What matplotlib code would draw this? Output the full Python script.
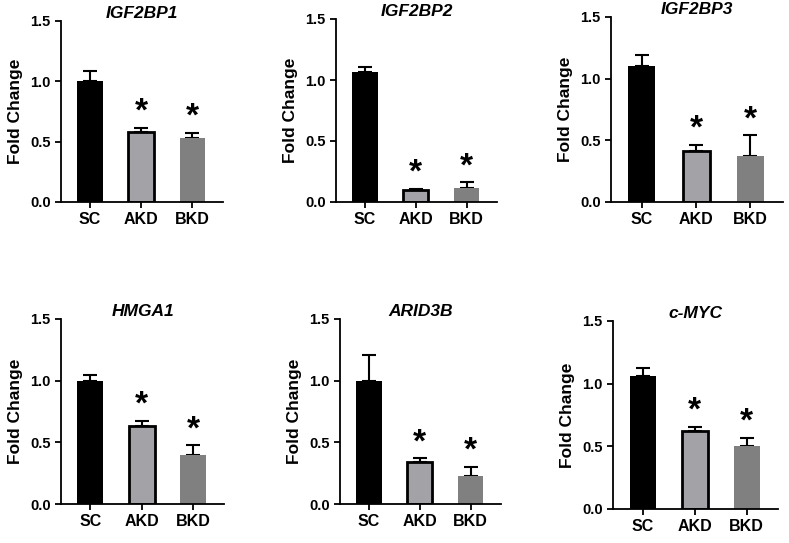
import matplotlib
matplotlib.use("Agg")
import matplotlib.pyplot as plt

plt.rcParams["font.family"] = ["Liberation Sans", "DejaVu Sans"]
plt.rcParams["font.weight"] = "bold"

groups = ["SC", "AKD", "BKD"]
genes = ["IGF2BP1", "IGF2BP2", "IGF2BP3", "HMGA1", "ARID3B", "c-MYC"]

means = {
    "IGF2BP1": [1.00, 0.58, 0.53],
    "IGF2BP2": [1.065, 0.095, 0.115],
    "IGF2BP3": [1.10, 0.41, 0.375],
    "HMGA1":   [1.00, 0.63, 0.40],
    "ARID3B":  [1.00, 0.34, 0.23],
    "c-MYC":   [1.065, 0.62, 0.50],
}
errs = {
    "IGF2BP1": [0.085, 0.035, 0.045],
    "IGF2BP2": [0.045, 0.013, 0.045],
    "IGF2BP3": [0.09, 0.055, 0.165],
    "HMGA1":   [0.046, 0.043, 0.076],
    "ARID3B":  [0.208, 0.03, 0.073],
    "c-MYC":   [0.06, 0.036, 0.068],
}
signif = [False, True, True]

colors = ["#000000", "#a3a3a7", "#808080"]
edges = ["#000000", "#000000", "#808080"]

W, H = 789, 543
# panel boxes in pixels: left, right, top (y=1.5), bottom (y=0)
boxes = [
    (61, 223, 21, 202),
    (336, 497, 19, 202),
    (611, 783, 17, 202),
    (61, 224, 319, 504),
    (340, 501, 319, 504),
    (613, 778, 321, 509),
]

fig = plt.figure(figsize=(W / 100, H / 100), dpi=100)

for gene, (l, r, t, b) in zip(genes, boxes):
    ax = fig.add_axes([l / W, 1 - b / H, (r - l) / W, (b - t) / H])
    x = range(len(groups))
    m = means[gene]
    e = errs[gene]
    for i in x:
        ax.errorbar(i, m[i], yerr=[[0], [e[i]]], fmt="none", ecolor="black",
                    elinewidth=1.5, capsize=5, capthick=1.5, zorder=1)
    ax.bar(x, m, width=0.5, color=colors, edgecolor=edges,
           linewidth=[0, 2, 0], zorder=2)
    for i in x:
        if signif[i]:
            ax.text(i, m[i] + e[i] + 0.0, "*", ha="center", va="bottom",
                    fontsize=24, fontweight="bold")
    ax.set_ylim(0, 1.5)
    ax.set_xlim(-0.57, 2.6)
    ax.set_yticks([0, 0.5, 1.0, 1.5])
    ax.set_yticklabels(["0.0", "0.5", "1.0", "1.5"], fontsize=10.5, fontweight="bold")
    ax.set_xticks(list(x))
    ax.set_xticklabels(groups, fontsize=11.5, fontweight="bold")
    ax.set_ylabel("Fold Change", fontsize=12.5, fontweight="bold", labelpad=5)
    ax.set_title(gene, fontsize=12.5, fontweight="bold", style="italic", pad=0)
    for s in ["top", "right"]:
        ax.spines[s].set_visible(False)
    for s in ["left", "bottom"]:
        ax.spines[s].set_linewidth(1.3)
    ax.tick_params(direction="out", length=4, width=1.3)

fig.savefig("out.png", dpi=100)
